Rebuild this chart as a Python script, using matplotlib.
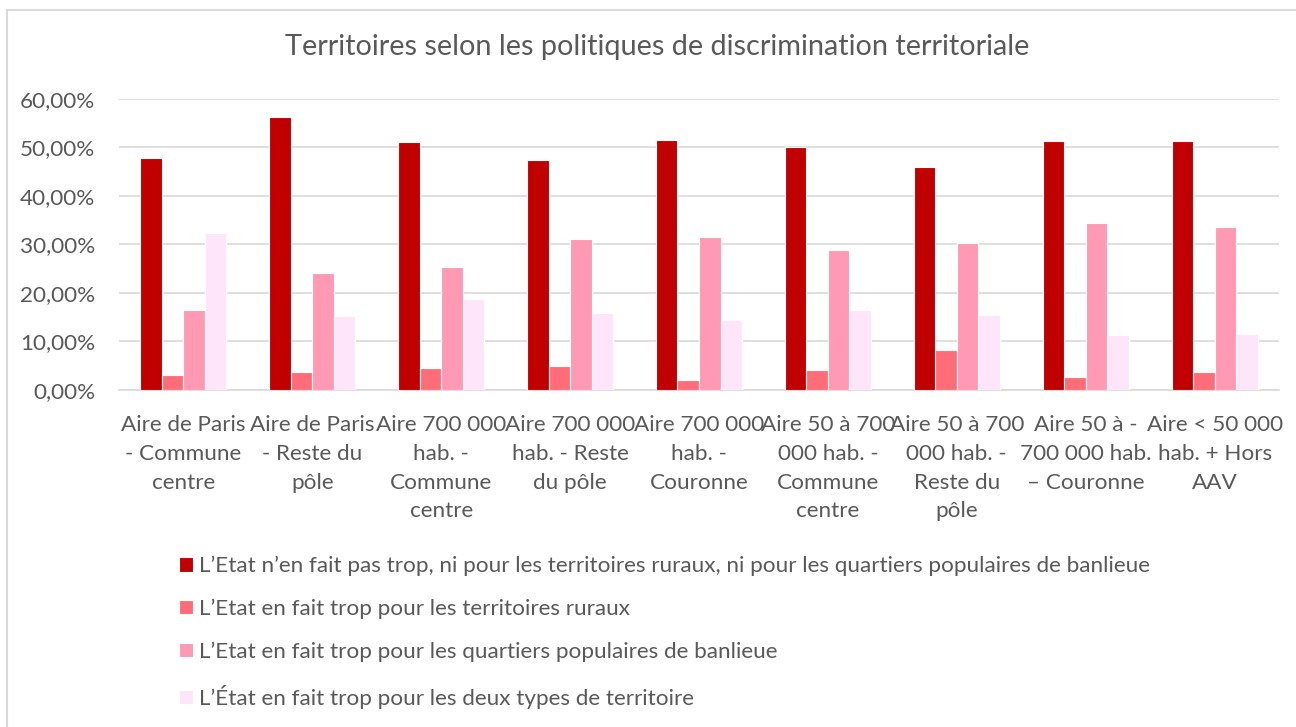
import matplotlib.pyplot as plt
import numpy as np
from matplotlib.patches import Rectangle
from matplotlib.ticker import FuncFormatter

plt.rcParams['font.family'] = ['Lato', 'DejaVu Sans']

categories = [
    'Aire de Paris\n- Commune\ncentre',
    'Aire de Paris\n- Reste du\npôle',
    'Aire 700 000\nhab. -\nCommune\ncentre',
    'Aire 700 000\nhab. - Reste\ndu pôle',
    'Aire 700 000\nhab. -\nCouronne',
    'Aire 50 à 700\n000 hab. -\nCommune\ncentre',
    'Aire 50 à 700\n000 hab. -\nReste du\npôle',
    'Aire 50 à -\n700 000 hab.\n– Couronne',
    'Aire < 50 000\nhab. + Hors\nAAV',
]

series_names = [
    "L’Etat n’en fait pas trop, ni pour les territoires ruraux, ni pour les quartiers populaires de banlieue",
    "L’Etat en fait trop pour les territoires ruraux",
    "L’Etat en fait trop pour les quartiers populaires de banlieue",
    "L’État en fait trop pour les deux types de territoire",
]

pas_trop = [47.8, 56.3, 51.0, 47.4, 51.5, 50.0, 45.9, 51.3, 51.3]
trop_ruraux = [3.0, 3.8, 4.5, 5.0, 2.1, 4.2, 8.2, 2.7, 3.7]
trop_quartiers = [16.5, 24.1, 25.4, 31.2, 31.5, 28.8, 30.3, 34.4, 33.6]
trop_deux = [32.4, 15.3, 18.7, 15.9, 14.5, 16.5, 15.4, 11.4, 11.6]

colors = ['#C00000', '#FF6D79', '#FF99B4', '#FFE5FA']
text_color = '#595959'
grid_color = '#D9D9D9'

fig = plt.figure(figsize=(12.96, 7.27), dpi=100)
ax = fig.add_axes([0.0918, 0.4635, 0.8951, 0.4007])

# chart frame
fig.patches.append(Rectangle((7 / 1296, -0.1), 2.0, 1.1 - 10 / 727,
                             transform=fig.transFigure, fill=False,
                             edgecolor=grid_color, linewidth=1.5))

x = np.arange(len(categories))
width = 0.167
all_series = [pas_trop, trop_ruraux, trop_quartiers, trop_deux]
for i, (vals, color, name) in enumerate(zip(all_series, colors, series_names)):
    ax.bar(x + (i - 1.5) * width, vals, width, color=color, label=name,
           edgecolor='white', linewidth=0.8, zorder=3)

ax.set_xlim(-0.5, len(categories) - 0.5)
ax.set_ylim(0, 60)
ax.set_yticks(np.arange(0, 61, 10))
ax.yaxis.set_major_formatter(FuncFormatter(lambda v, p: ('%.2f%%' % v).replace('.', ',')))
ax.set_xticks(x)
ax.set_xticklabels(categories, linespacing=1.55)
ax.grid(axis='y', color=grid_color, linewidth=1.2, zorder=0)
for s in ['top', 'right', 'left']:
    ax.spines[s].set_visible(False)
ax.spines['bottom'].set_color(grid_color)
ax.spines['bottom'].set_linewidth(1.2)
ax.tick_params(axis='both', length=0, labelsize=16.2, colors=text_color)
ax.tick_params(axis='x', pad=18)
ax.tick_params(axis='y', pad=17)

fig.text(0.507, 1 - 47 / 727, 'Territoires selon les politiques de discrimination territoriale',
         ha='center', va='center', fontsize=20.8, color=text_color)

handles, labels = ax.get_legend_handles_labels()
leg = fig.legend(handles, labels, loc='upper left', bbox_to_anchor=(170 / 1296, 1 - 547 / 727),
                 frameon=False, fontsize=16.2, handlelength=0.6, handleheight=0.6,
                 handletextpad=0.3, labelspacing=1.0, borderaxespad=0)
for t in leg.get_texts():
    t.set_color(text_color)

fig.savefig('out.png', dpi=100, facecolor='white')
